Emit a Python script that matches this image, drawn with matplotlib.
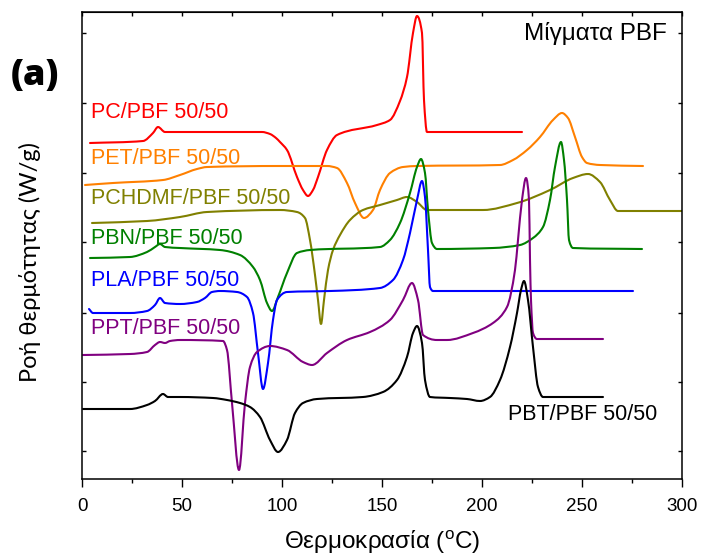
import numpy as np
import matplotlib
matplotlib.use("Agg")
import matplotlib.pyplot as plt
from matplotlib.path import Path
from matplotlib.patches import PathPatch

plt.rcParams['font.family'] = ['Liberation Sans', 'DejaVu Sans']

# DSC heating traces of the PBF blends (temperature in °C, stacked heat flow, arbitrary offset units)
pc_T = [4, 30.5, 35.5, 38, 41.5, 49, 90, 94, 97, 99, 102.5, 107.5, 110.5, 113, 115.5, 118, 122.5,
        127.5, 147.5, 154, 159, 162.5, 165.5, 167.5, 170, 171, 172.5, 220]
pc_y = [336, 338, 346, 352, 347, 347, 347, 345, 341, 337, 329, 302, 289, 283, 289, 302, 329,
        344, 354, 359, 378, 402, 446, 463, 446, 379, 347, 347]

pet_T = [1.5, 15.5, 40.5, 49, 57.5, 62.5, 99, 122.5, 127.5, 132.5, 136.5, 141, 145.5, 149, 154,
         160.5, 167.5, 209, 215.5, 222.5, 229, 235.5, 240, 243, 246.5, 250, 252.5, 259, 280.5]
pet_y = [294, 296, 299, 304, 310, 312, 313, 313, 311, 296, 276, 261, 269, 289, 306,
         312, 313, 314, 319, 329, 342, 359, 366, 361, 342, 322, 316, 314, 313]

pchdmf_T = [5, 32.5, 49, 62.5, 99, 107.5, 111.5, 114, 116.5, 118, 119.5, 121, 123, 125.5, 129,
            134, 140.5, 149, 157.5, 162.5, 167.5, 172.5, 200.5, 217.5, 234, 245.5, 253, 259,
            264, 268, 300]
pchdmf_y = [256, 258, 262, 267, 269, 267, 261, 239, 204, 179, 155, 179, 209, 229, 244,
            259, 269, 274, 279, 282, 277, 269, 269, 276, 289, 301, 305, 297,
            279, 268, 268]

pbn_T = [4, 24, 32.5, 36.5, 39, 41.5, 49, 69, 79, 85.5, 89, 92.5, 95, 98, 102.5, 107.5, 114,
         149, 154, 159, 164, 167.5, 169.5, 171.5, 173, 175, 177.5, 205.5, 219, 225.5, 230.5,
         234, 236.5, 239.5, 241, 242.5, 243.5, 245.5, 280]
pbn_y = [221, 222, 227, 232, 235, 232, 231, 229, 224, 212, 199, 176, 168, 182, 206, 226, 229,
         232, 239, 256, 286, 312, 320, 306, 269, 236, 230, 231, 234, 241, 252,
         279, 312, 337, 319, 279, 239, 231, 230]

pla_T = [3.5, 5.5, 24, 32.5, 36.5, 39, 41.5, 49, 57.5, 61.5, 65, 69, 77.5, 82.5, 85.5, 88,
         90.5, 93, 95.5, 97.5, 102.5, 124, 149, 155.5, 160.5, 164, 167.5, 170, 171.5, 173,
         174, 175.5, 275.5]
pla_y = [170, 166, 166, 168, 174, 181, 176, 175, 177, 181, 187, 188, 187, 182, 166, 126,
         90, 116, 159, 179, 187, 188, 191, 199, 219, 246, 279, 298, 282, 229,
         192, 188, 188]

ppt_T = [0.5, 24, 32.5, 36.5, 39, 41.5, 44, 49, 70.5, 72.5, 75, 78.5, 81.5, 84, 87.5, 94,
         102.5, 110.5, 115, 122.5, 132.5, 144, 154, 160.5, 165, 168, 170.5, 177.5, 182.5,
         195.5, 205.5, 212.5, 216.5, 218, 220, 222, 223.5, 224, 224.5, 225.5, 227.5, 260.5]
ppt_y = [124, 125, 127, 134, 137, 136, 138, 139, 138, 129, 76, 9, 76, 112, 127, 133,
         129, 117, 114, 126, 139, 147, 159, 179, 196, 179, 144, 139, 139,
         146, 156, 172, 209, 239, 279, 301, 279, 219, 179, 146, 140, 140]

pbt_T = [0.5, 24, 32.5, 36.5, 40.5, 43, 49, 65.5, 72.5, 79, 84, 89, 94, 98, 102.5, 106.5,
         110.5, 117.5, 140.5, 150.5, 157.5, 162.5, 165.5, 167.5, 170, 171.5, 174, 184, 192.5,
         199, 204, 209, 214, 217.5, 219.5, 221, 223, 225.5, 228, 230.5, 260.5]
pbt_y = [70, 70, 74, 78, 85, 82, 82, 81, 79, 76, 72, 62, 39, 27, 39, 66,
         76, 80, 82, 87, 99, 122, 146, 153, 136, 99, 82, 81, 80,
         78, 82, 99, 132, 166, 189, 198, 179, 132, 92, 82, 82]

series = [
    (pc_T, pc_y, '#ff0000', 'PC/PBF 50/50', 366),
    (pet_T, pet_y, '#ff8000', 'PET/PBF 50/50', 321),
    (pchdmf_T, pchdmf_y, '#808000', 'PCHDMF/PBF 50/50', 280),
    (pbn_T, pbn_y, '#008000', 'PBN/PBF 50/50', 241),
    (pla_T, pla_y, '#0000ff', 'PLA/PBF 50/50', 199),
    (ppt_T, ppt_y, '#800080', 'PPT/PBF 50/50', 150),
]

y_ticks = [28, 97, 166, 237, 306, 376, 446]


def smooth_path(x, y):
    """Monotone cubic (Fritsch-Carlson) Bezier path through the points."""
    x = np.asarray(x, float)
    y = np.asarray(y, float)
    h = np.diff(x)
    d = np.diff(y) / h
    m = np.zeros_like(y)
    m[0], m[-1] = d[0], d[-1]
    for i in range(1, len(x) - 1):
        if d[i - 1] * d[i] <= 0:
            m[i] = 0.0
        else:
            w1 = 2 * h[i] + h[i - 1]
            w2 = h[i] + 2 * h[i - 1]
            m[i] = (w1 + w2) / (w1 / d[i - 1] + w2 / d[i])
    verts = [(x[0], y[0])]
    codes = [Path.MOVETO]
    for i in range(len(x) - 1):
        verts += [(x[i] + h[i] / 3, y[i] + m[i] * h[i] / 3),
                  (x[i + 1] - h[i] / 3, y[i + 1] - m[i + 1] * h[i] / 3),
                  (x[i + 1], y[i + 1])]
        codes += [Path.CURVE4] * 3
    return Path(verts, codes)


fig = plt.figure(figsize=(7.02, 5.58), dpi=100)
ax = fig.add_axes([82 / 702, 79 / 558, 600 / 702, 467 / 558])

for T, y, color, label, ly in series:
    ax.add_patch(PathPatch(smooth_path(T, y), facecolor='none', edgecolor=color, lw=1.5,
                           joinstyle='round', capstyle='round'))
    ax.text(4.5, ly, label, color=color, fontsize=15.5, va='center', ha='left')

ax.add_patch(PathPatch(smooth_path(pbt_T, pbt_y), facecolor='none', edgecolor='black', lw=1.5,
                       joinstyle='round', capstyle='round'))
ax.text(213, 64, 'PBT/PBF 50/50', color='black', fontsize=15.5, va='center', ha='left')

ax.text(0.975, 0.955, 'Μίγματα PBF', transform=ax.transAxes, fontsize=17.5,
        ha='right', va='center')

ax.set_xlim(0, 300)
ax.set_ylim(0, 467)
ax.set_xticks(np.arange(0, 301, 50))
ax.set_xticks(np.arange(25, 300, 50), minor=True)
ax.set_yticks(y_ticks)
ax.tick_params(axis='x', which='major', direction='out', length=5.8, width=1.0,
               labelsize=13.5, pad=8)
ax.tick_params(axis='x', which='minor', direction='out', length=3.0, width=1.0)
ax.tick_params(axis='y', which='major', direction='in', length=3, width=1.0,
               left=True, right=True, labelleft=False)
for s in ax.spines.values():
    s.set_linewidth(1.1)

top = ax.secondary_xaxis('top')
top.set_xticks(np.arange(0, 301, 25))
top.tick_params(direction='in', length=3, width=1.0, labeltop=False)

ax.set_xlabel('Θερμοκρασία ($\\mathregular{^{o}}$C)', fontsize=17.5, labelpad=10)
fig.text(30 / 702, 1 - 262 / 558, 'Ροή θερμότητας (W/g)', rotation=90, fontsize=17,
         ha='center', va='center', family=['Lato', 'Open Sans', 'DejaVu Sans'])
fig.text(35 / 702, 1 - 76 / 558, '(a)', fontsize=26, fontweight='heavy',
         ha='center', va='center', family=['Open Sans', 'DejaVu Sans'])

fig.savefig('out.png', dpi=100)
